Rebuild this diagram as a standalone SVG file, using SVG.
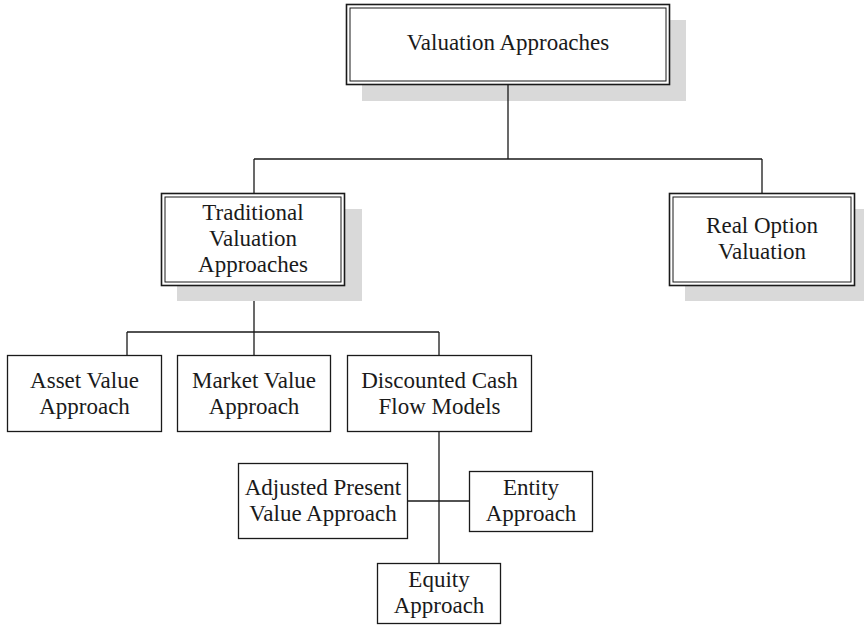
<svg xmlns="http://www.w3.org/2000/svg" width="864" height="626" viewBox="0 0 864 626">
  <style>
    .shadow { fill: #d9d9d9; stroke: none; }
    .outer { fill: #ffffff; stroke: #1a1a1a; stroke-width: 1.6; }
    .inner { fill: none; stroke: #1a1a1a; stroke-width: 1; }
    .box { fill: #ffffff; stroke: #1a1a1a; stroke-width: 1.3; }
    .label { font-family: "Liberation Serif", "Times New Roman", serif; font-size: 23px; fill: #1a1a1a; text-anchor: middle; }
    .link { fill: none; stroke: #1a1a1a; stroke-width: 1.3; }
  </style>
  <rect width="864" height="626" fill="#ffffff"/>

  <!-- double-framed nodes with drop shadows -->
  <g id="valuation-approaches">
    <rect class="shadow" x="362" y="20" width="324" height="81"/>
    <rect class="outer" x="346.5" y="4.5" width="323" height="80"/>
    <rect class="inner" x="350" y="8" width="316" height="73"/>
    <text class="label" x="508" y="50">Valuation Approaches</text>
  </g>

  <g id="traditional-valuation">
    <rect class="shadow" x="177" y="209" width="185" height="92"/>
    <rect class="outer" x="161.5" y="193.5" width="183" height="92"/>
    <rect class="inner" x="165" y="197" width="176" height="85"/>
    <text class="label" x="253" y="220">Traditional</text>
    <text class="label" x="253" y="246">Valuation</text>
    <text class="label" x="253" y="272">Approaches</text>
  </g>

  <g id="real-option-valuation">
    <rect class="shadow" x="685" y="209" width="186" height="92"/>
    <rect class="outer" x="669.5" y="193.5" width="185" height="92"/>
    <rect class="inner" x="673" y="197" width="178" height="85"/>
    <text class="label" x="762" y="233">Real Option</text>
    <text class="label" x="762" y="259">Valuation</text>
  </g>

  <!-- single-framed nodes -->
  <g id="asset-value">
    <rect class="box" x="7.5" y="355.5" width="154" height="76"/>
    <text class="label" x="84.5" y="388">Asset Value</text>
    <text class="label" x="84.5" y="414">Approach</text>
  </g>

  <g id="market-value">
    <rect class="box" x="177.5" y="355.5" width="153" height="76"/>
    <text class="label" x="254" y="388">Market Value</text>
    <text class="label" x="254" y="414">Approach</text>
  </g>

  <g id="discounted-cash-flow">
    <rect class="box" x="347.5" y="355.5" width="184" height="76"/>
    <text class="label" x="439.5" y="388">Discounted Cash</text>
    <text class="label" x="439.5" y="414">Flow Models</text>
  </g>

  <g id="adjusted-present-value">
    <rect class="box" x="238.5" y="463.5" width="169" height="75"/>
    <text class="label" x="323" y="495">Adjusted Present</text>
    <text class="label" x="323" y="521">Value Approach</text>
  </g>

  <g id="entity-approach">
    <rect class="box" x="469.5" y="471.5" width="123" height="60"/>
    <text class="label" x="531" y="495">Entity</text>
    <text class="label" x="531" y="521">Approach</text>
  </g>

  <g id="equity-approach">
    <rect class="box" x="377.5" y="563.5" width="123" height="60"/>
    <text class="label" x="439" y="587">Equity</text>
    <text class="label" x="439" y="613">Approach</text>
  </g>

  <!-- connectors -->
  <g id="connectors">
    <path class="link" d="M508 85 V159 M254 159 H762 M254 159 V193 M762 159 V193"/>
    <path class="link" d="M254 301 V332 M127 332 H439 M127 332 V355 M254 332 V355 M439 332 V355"/>
    <path class="link" d="M439 432 V563 M408 501 H469"/>
  </g>
</svg>
